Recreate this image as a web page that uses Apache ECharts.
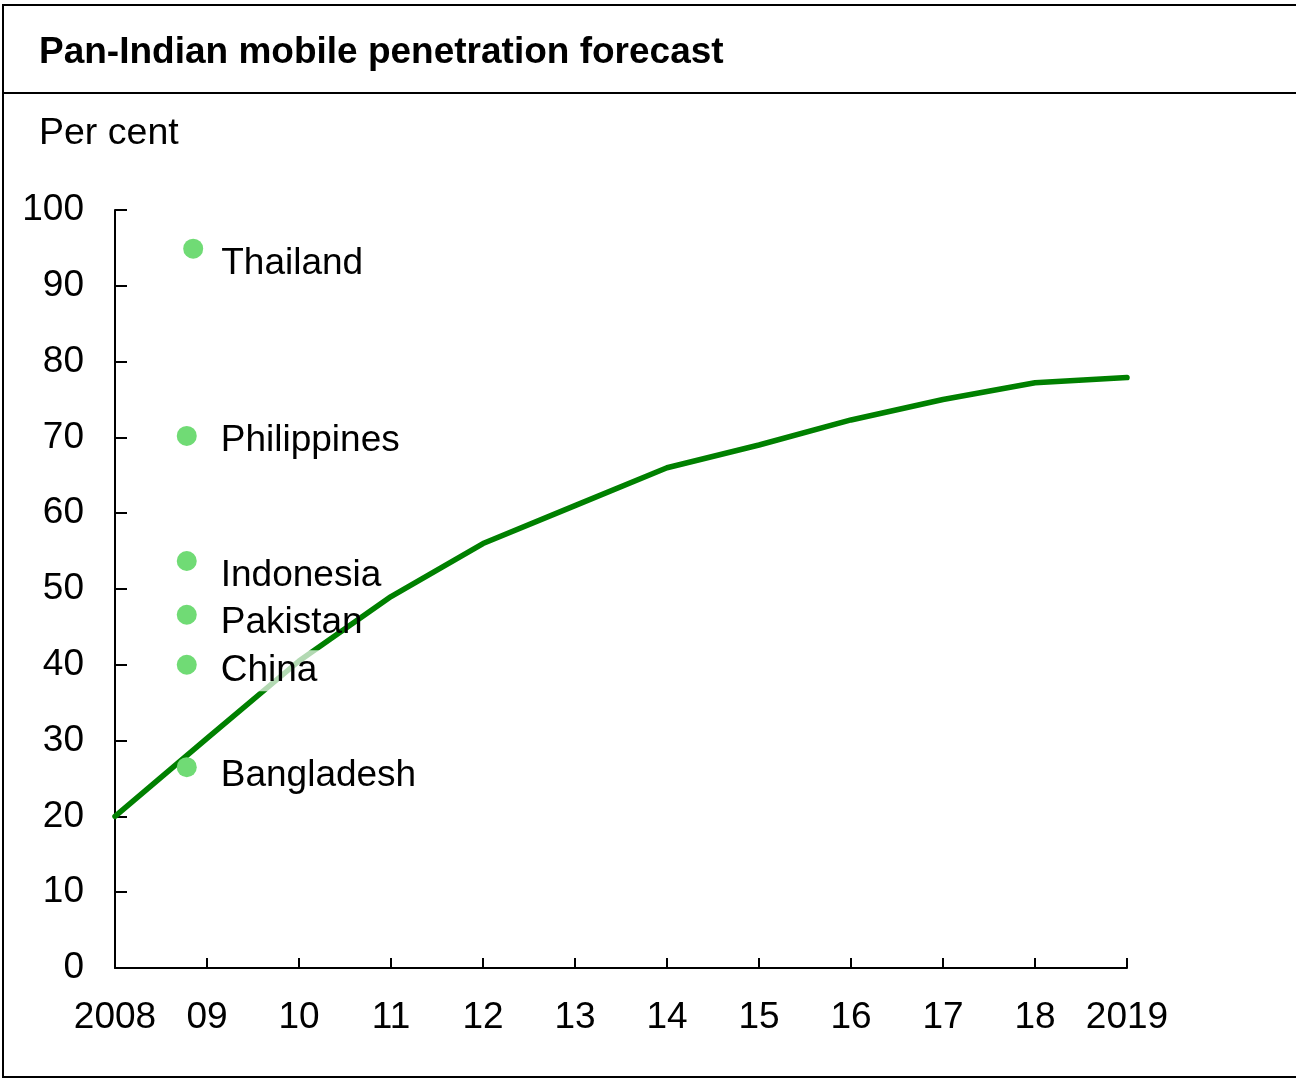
<!DOCTYPE html>
<html>
<head>
<meta charset="utf-8">
<script src="https://cdn.jsdelivr.net/npm/echarts@6/dist/echarts.min.js"></script>
<style>
html,body{margin:0;padding:0;background:#fff;}
#chart{width:1296px;height:1079px;}
</style>
</head>
<body>
<div id="chart"></div>
<script>
// ---- data ----
const years = [2008, 2009, 2010, 2011, 2012, 2013, 2014, 2015, 2016, 2017, 2018, 2019];
const xTickLabels = ['2008', '09', '10', '11', '12', '13', '14', '15', '16', '17', '18', '2019'];
const indiaPenetration = [20, 30.3, 40.5, 49, 56, 61, 66, 69, 72.3, 75, 77.2, 77.9];
const countries = ['Thailand', 'Philippines', 'Indonesia', 'Pakistan', 'China', 'Bangladesh'];
const countryX = [2008.85, 2008.78, 2008.78, 2008.78, 2008.78, 2008.78];
const countryValues = [94.9, 70.2, 53.7, 46.6, 40, 26.5];
const yTicks = [0, 10, 20, 30, 40, 50, 60, 70, 80, 90, 100];

// ---- styling (label nudges, not data) ----
const labelNudgeY = [15, 5, 15, 8, 6, 9];
const labelNudgeX = [18, 24, 24, 24, 24, 24];
const labelBg = [null, null, null, null, 'rgba(255,255,255,0.7)', null];

const FONT = "'Liberation Sans', Arial, Helvetica, sans-serif";
const chart = echarts.init(document.getElementById('chart'), null, {renderer: 'canvas'});

const scatterData = countries.map((name, i) => ({
  name: name,
  value: [countryX[i], countryValues[i]],
  label: {
    offset: [labelNudgeX[i], labelNudgeY[i]],
    backgroundColor: labelBg[i] || 'transparent',
    padding: labelBg[i] ? [2, 14, 2, 0] : 0
  }
}));

chart.setOption({
  animation: false,
  backgroundColor: '#fff',
  title: [
    {text: 'Pan-Indian mobile penetration forecast', left: 39, top: 34, padding: 0,
     textStyle: {fontFamily: FONT, fontSize: 37, fontWeight: 'bold', color: '#000', lineHeight: 37}},
    {text: 'Per cent', left: 39, top: 115, padding: 0,
     textStyle: {fontFamily: FONT, fontSize: 37.5, fontWeight: 'normal', color: '#000', lineHeight: 37}}
  ],
  graphic: [
    {type: 'rect', shape: {x: 3, y: 5, width: 1310, height: 1072},
     style: {fill: 'none', stroke: '#000', lineWidth: 2}, silent: true, z: 100},
    {type: 'line', shape: {x1: 3, y1: 93, x2: 1296, y2: 93},
     style: {stroke: '#000', lineWidth: 2}, silent: true, z: 100}
  ],
  grid: {left: 115, right: 169, top: 210, bottom: 111, containLabel: false},
  xAxis: {
    type: 'value', min: years[0], max: years[years.length - 1], interval: 1,
    axisLine: {show: true, lineStyle: {color: '#000', width: 2}},
    axisTick: {show: true, inside: true, length: 10, lineStyle: {color: '#000', width: 2}},
    splitLine: {show: false},
    axisLabel: {
      margin: 31, fontFamily: FONT, fontSize: 37, color: '#000',
      formatter: v => xTickLabels[years.indexOf(Math.round(v))] || ''
    }
  },
  yAxis: {
    type: 'value', min: yTicks[0], max: yTicks[yTicks.length - 1], interval: 10,
    axisLine: {show: true, lineStyle: {color: '#000', width: 2}},
    axisTick: {show: true, inside: true, length: 12, lineStyle: {color: '#000', width: 2}},
    splitLine: {show: false},
    axisLabel: {margin: 31, fontFamily: FONT, fontSize: 37, color: '#000'}
  },
  series: [
    {
      type: 'line',
      data: years.map((y, i) => [y, indiaPenetration[i]]),
      showSymbol: false, symbol: 'none',
      lineStyle: {color: '#008000', width: 5.5, cap: 'round', join: 'round'},
      z: 2
    },
    {
      type: 'scatter',
      data: scatterData,
      symbol: 'circle', symbolSize: 20,
      itemStyle: {color: '#70db75', opacity: 1},
      label: {
        show: true, position: 'right', distance: 0,
        formatter: p => p.name,
        fontFamily: FONT, fontSize: 37, color: '#000'
      },
      z: 3
    }
  ]
});
</script>
</body>
</html>
